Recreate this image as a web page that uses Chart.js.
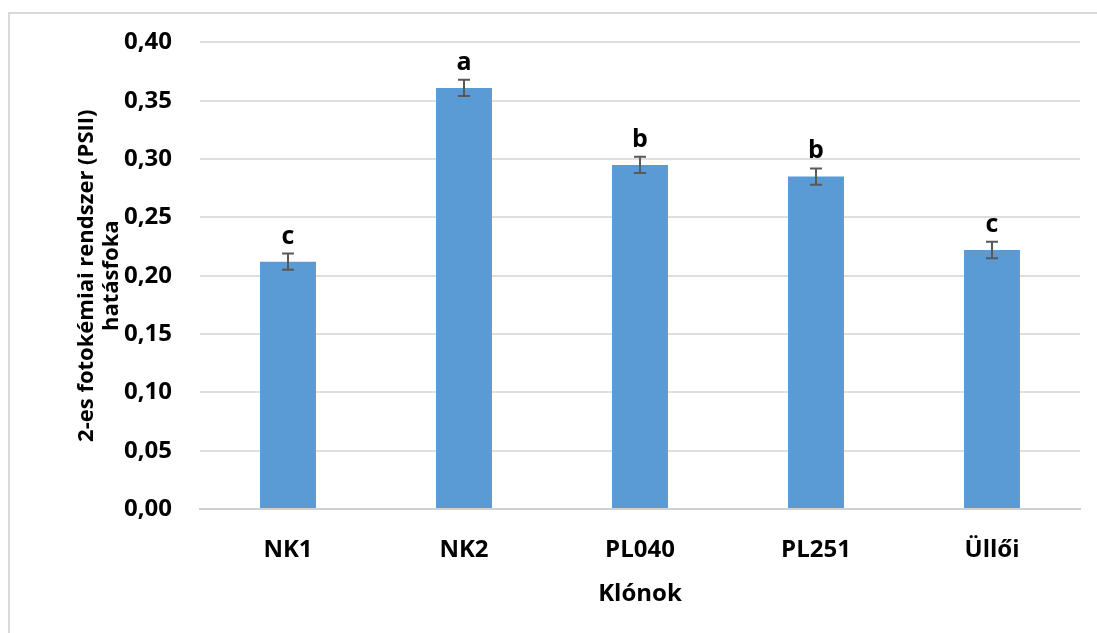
<!DOCTYPE html>
<html><head><meta charset="utf-8">
<script src="https://cdn.jsdelivr.net/npm/chart.js@4"></script>
<style>html,body{margin:0;padding:0;background:#fff;overflow:hidden}#wrap{width:1097px;height:633px;position:relative}</style>
</head><body><div id="wrap"><canvas id="c" width="1097" height="633"></canvas></div>
<script>
const categories = ["NK1", "NK2", "PL040", "PL251", "Üllői"];
const values = [0.212, 0.361, 0.295, 0.285, 0.222];
const errors = [0.007, 0.007, 0.007, 0.007, 0.007];
const letters = ["c", "a", "b", "b", "c"];
const yTicks = [0, 0.05, 0.10, 0.15, 0.20, 0.25, 0.30, 0.35, 0.40];
const FONT = "'Open Sans', Lato, sans-serif";

const extras = {
  id: 'extras',
  beforeDraw(chart) {
    const ctx = chart.ctx;
    ctx.save();
    ctx.strokeStyle = '#d9d9d9';
    ctx.lineWidth = 2;
    ctx.strokeRect(9, 13, 1120, 660);
    ctx.restore();
  },
  afterDatasetsDraw(chart) {
    const ctx = chart.ctx;
    const meta = chart.getDatasetMeta(0);
    const y = chart.scales.y;
    ctx.save();
    ctx.strokeStyle = '#595959';
    ctx.lineWidth = 2;
    meta.data.forEach((bar, i) => {
      const x = bar.x;
      const top = y.getPixelForValue(values[i] + errors[i]);
      const bot = y.getPixelForValue(values[i] - errors[i]);
      ctx.beginPath();
      ctx.moveTo(x, top); ctx.lineTo(x, bot);
      ctx.moveTo(x - 6, top); ctx.lineTo(x + 6, top);
      ctx.moveTo(x - 6, bot); ctx.lineTo(x + 6, bot);
      ctx.stroke();
      ctx.fillStyle = '#000';
      ctx.font = "bold 25px " + FONT;
      ctx.textAlign = 'center';
      ctx.textBaseline = 'alphabetic';
      ctx.fillText(letters[i], x, top - 10);
    });
    ctx.restore();
  }
};

new Chart(document.getElementById('c'), {
  type: 'bar',
  data: {
    labels: categories,
    datasets: [{
      data: values,
      backgroundColor: '#5b9bd5',
      borderWidth: 0,
      categoryPercentage: 1,
      barPercentage: 0.318
    }]
  },
  options: {
    responsive: false,
    animation: false,
    layout: { padding: { left: 0, top: 42, right: 17, bottom: 0 } },
    plugins: { legend: { display: false }, tooltip: { enabled: false } },
    scales: {
      x: {
        grid: { display: false, drawTicks: false },
        border: { color: '#d0d0d0', width: 2 },
        ticks: { color: '#000', font: { family: FONT, size: 24, weight: 'bold' }, padding: 27 },
        title: { display: true, text: 'Klónok', color: '#000', font: { family: FONT, size: 24, weight: 'bold' }, padding: { top: 0, bottom: 24 } },
        afterFit(s) { s.height = 124; }
      },
      y: {
        min: 0, max: 0.40,
        afterBuildTicks(s) { s.ticks = yTicks.map(v => ({ value: v })); },
        grid: { color: '#dedede', lineWidth: 2, drawTicks: false },
        border: { display: false },
        ticks: {
          color: '#000', padding: 28,
          font: { family: FONT, size: 24, weight: 'bold' },
          callback: v => v.toFixed(2).replace('.', ',')
        },
        title: { display: true, text: ['2-es fotokémiai rendszer (PSII)', 'hatásfoka'], color: '#000', font: { family: FONT, size: 22, weight: 'bold', lineHeight: 1.1 }, padding: { top: 75, bottom: 0 } },
        afterFit(s) { s.width = 200; }
      }
    }
  },
  plugins: [extras]
});
</script></body></html>
